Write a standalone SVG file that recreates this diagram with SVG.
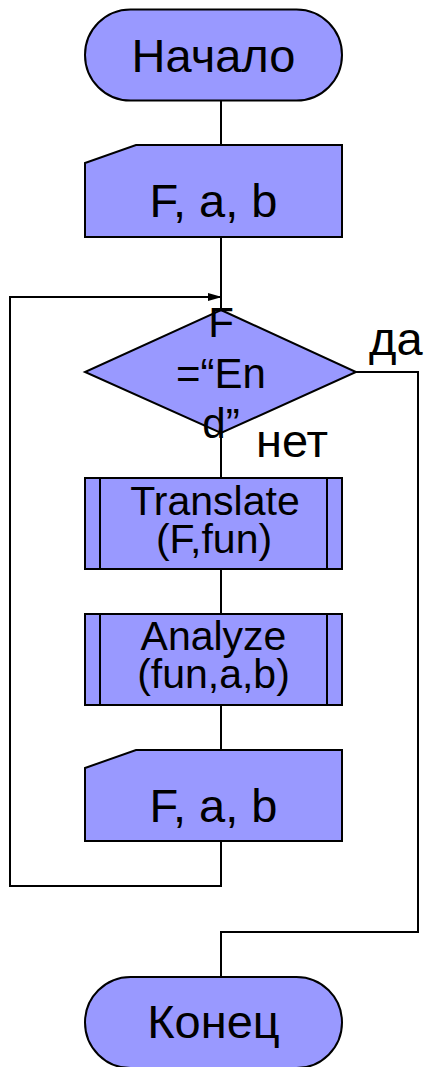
<svg xmlns="http://www.w3.org/2000/svg" width="427" height="1067" viewBox="0 0 427 1067">
<style>
.shape{fill:#9999FF;stroke:#000;stroke-width:2}
.line{fill:none;stroke:#000;stroke-width:2}
text{font-family:"Liberation Sans",Arial,sans-serif;fill:#000}
.big{font-size:47px;text-anchor:middle}
.dec{font-size:42px;text-anchor:middle}
.mid{font-size:41px;text-anchor:middle}
.lbl{font-size:47px}
</style>
<defs>
<marker id="arr" markerWidth="14" markerHeight="8" refX="13" refY="4" orient="auto" markerUnits="userSpaceOnUse">
<path d="M0,0 L14,4 L0,8 Z" fill="#000"/>
</marker>
</defs>
<rect width="427" height="1067" fill="#fff"/>
<g id="connectors">
<line class="line" x1="221" y1="100" x2="221" y2="145"/>
<line class="line" x1="221" y1="237" x2="221" y2="310"/>
<polyline class="line" points="221,841 221,886 10,886 10,297 221,297" marker-end="url(#arr)"/>
<line class="line" x1="221" y1="433" x2="221" y2="478"/>
<line class="line" x1="221" y1="569" x2="221" y2="614"/>
<line class="line" x1="221" y1="705" x2="221" y2="750"/>
<polyline class="line" points="356,372 418,372 418,932 221,932 221,977"/>
</g>
<g id="start">
<rect class="shape" x="85" y="9.5" width="257" height="91" rx="45.5" ry="45.5"/>
<text class="big" x="213.5" y="72">Начало</text>
</g>
<g id="input1">
<path class="shape" d="M136,145 L342,145 L342,237 L85,237 L85,163 Z"/>
<text class="big" x="213.5" y="217">F, a, b</text>
</g>
<g id="decision">
<path class="shape" d="M221,310 L356,372 L221,433 L85,372 Z"/>
<text class="dec" x="221" y="337">F</text>
<text class="dec" x="221" y="388">=“En</text>
<text class="dec" x="221" y="438">d”</text>
<text class="lbl" x="369" y="355">да</text>
<text class="lbl" x="256" y="457">нет</text>
</g>
<g id="translate">
<rect class="shape" x="85" y="478" width="257" height="91"/>
<line class="line" x1="100" y1="478" x2="100" y2="569"/>
<line class="line" x1="327" y1="478" x2="327" y2="569"/>
<text class="mid" x="215" y="515">Translate</text>
<text class="mid" x="214" y="553">(F,fun)</text>
</g>
<g id="analyze">
<rect class="shape" x="85" y="614" width="257" height="91"/>
<line class="line" x1="100" y1="614" x2="100" y2="705"/>
<line class="line" x1="327" y1="614" x2="327" y2="705"/>
<text class="mid" x="213.5" y="650">Analyze</text>
<text class="mid" x="213.5" y="688">(fun,a,b)</text>
</g>
<g id="input2">
<path class="shape" d="M136,750 L342,750 L342,841 L85,841 L85,768 Z"/>
<text class="big" x="213.5" y="822">F, a, b</text>
</g>
<g id="end">
<rect class="shape" x="85" y="977" width="257" height="91" rx="45.5" ry="45.5"/>
<text class="big" x="213.5" y="1038">Конец</text>
</g>
</svg>
